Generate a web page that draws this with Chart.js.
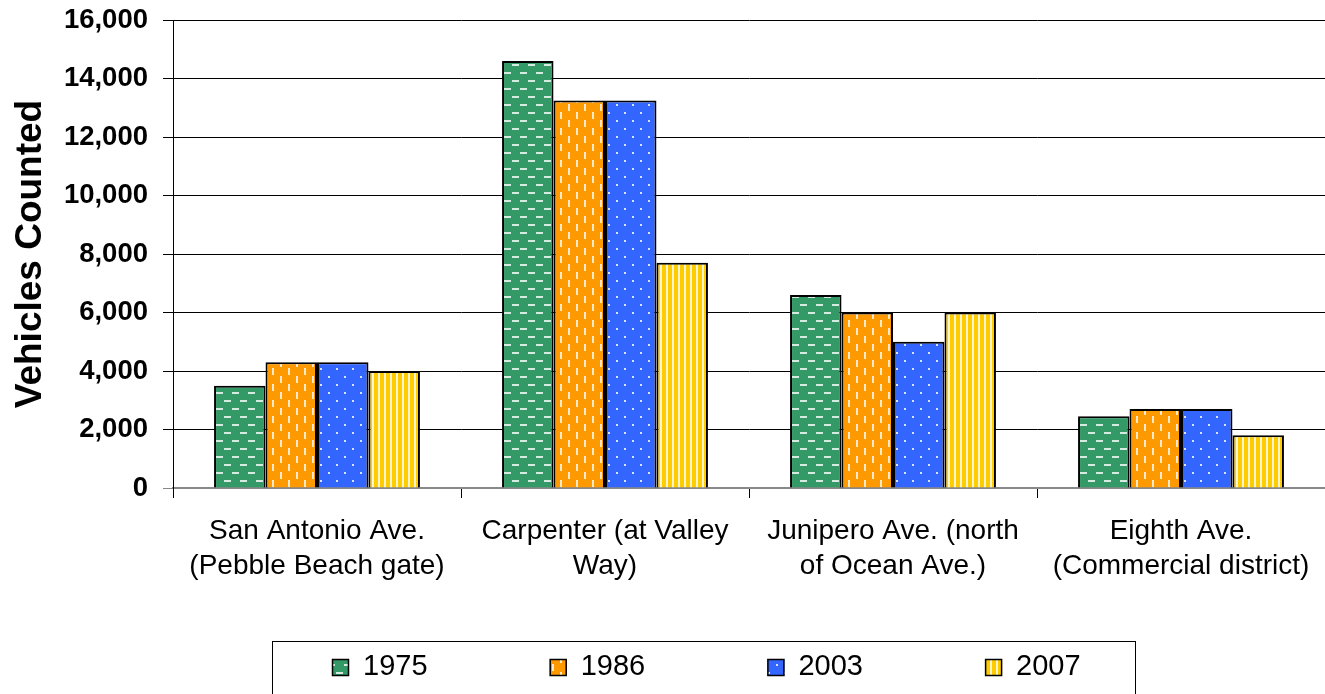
<!DOCTYPE html>
<html>
<head>
<meta charset="utf-8">
<script src="https://cdn.jsdelivr.net/npm/chart.js@4.4.1/dist/chart.umd.min.js"></script>
<style>
  html, body { margin: 0; padding: 0; background: #fff; }
</style>
</head>
<body>
<canvas id="trafficChart" width="1325" height="694"></canvas>
<script>
// Traffic counts by location and year
const categories = [
  ['San Antonio Ave.', '(Pebble Beach gate)'],
  ['Carpenter (at Valley', 'Way)'],
  ['Junipero Ave. (north', 'of Ocean Ave.)'],
  ['Eighth Ave.', '(Commercial district)']
];
const years = ['1975', '1986', '2003', '2007'];
const counts1975 = [3500, 14600, 6600, 2450];
const counts1986 = [4300, 13250, 6000, 2700];
const counts2003 = [4300, 13250, 5000, 2700];
const counts2007 = [4000, 7700, 6000, 1800];
const yMax = 16000;
const yStep = 2000;

const FONT = '"Liberation Sans", Arial, sans-serif';

const canvas = document.getElementById('trafficChart');
const ctx = canvas.getContext('2d');

// Build a fill pattern: base colour plus light marks
function makePattern(base, w, h, marks) {
  const c = document.createElement('canvas');
  c.width = w;
  c.height = h;
  const g = c.getContext('2d');
  g.fillStyle = base;
  g.fillRect(0, 0, w, h);
  g.fillStyle = 'rgba(255, 255, 255, 0.8)';
  marks(g);
  return ctx.createPattern(c, 'repeat');
}

const greenDash = makePattern('#339966', 16, 16, function(g) {
  g.fillRect(0, 0, 7, 2);
  g.fillRect(8, 8, 7, 2);
});
const orangeDash = makePattern('#ff9900', 16, 16, function(g) {
  g.fillRect(0, 0, 2, 7);
  g.fillRect(8, 8, 2, 7);
});
const blueDots = makePattern('#3366ff', 16, 16, function(g) {
  g.fillRect(0, 0, 2, 2);
  g.fillRect(8, 8, 2, 2);
});
const yellowStripes = makePattern('#ffcc00', 6, 6, function(g) {
  g.fillRect(0, 0, 2, 6);
});

// Legend inside a rectangle under the chart
const boxedLegend = {
  id: 'boxedLegend',
  afterDraw(chart) {
    const c = chart.ctx;
    c.save();
    c.strokeStyle = '#000';
    c.lineWidth = 1;
    c.strokeRect(272.5, 641.5, 863, 60);
    c.font = '29px ' + FONT;
    c.textBaseline = 'middle';
    chart.data.datasets.forEach(function(ds, i) {
      const x = 332 + i * 217.7;
      c.fillStyle = ds.backgroundColor;
      c.fillRect(x, 659, 17, 17);
      c.strokeStyle = '#000';
      c.lineWidth = 1.5;
      c.strokeRect(x + 0.5, 659.5, 16, 16);
      c.fillStyle = '#000';
      c.fillText(ds.label, x + 31, 667);
    });
    c.restore();
  }
};

const barCommon = {
  borderColor: '#000',
  borderWidth: 2,
  categoryPercentage: 0.715,
  barPercentage: 1.0
};

new Chart(ctx, {
  type: 'bar',
  data: {
    labels: categories,
    datasets: [
      Object.assign({ label: years[0], data: counts1975, backgroundColor: greenDash }, barCommon),
      Object.assign({ label: years[1], data: counts1986, backgroundColor: orangeDash }, barCommon),
      Object.assign({ label: years[2], data: counts2003, backgroundColor: blueDots }, barCommon),
      Object.assign({ label: years[3], data: counts2007, backgroundColor: yellowStripes }, barCommon)
    ]
  },
  options: {
    responsive: false,
    devicePixelRatio: 1,
    animation: false,
    layout: {
      padding: { top: 20, right: 0, bottom: 0, left: 0 }
    },
    plugins: {
      legend: { display: false },
      tooltip: { enabled: false }
    },
    scales: {
      x: {
        grid: {
          offset: true,
          drawOnChartArea: false,
          color: '#000',
          tickLength: 10
        },
        border: { color: '#888', width: 2 },
        ticks: {
          color: '#000',
          font: { family: FONT, size: 28, lineHeight: 1.25 },
          padding: 16,
          maxRotation: 0,
          autoSkip: false
        },
        afterFit: function(scale) {
          scale.height = 206;
          scale.paddingLeft = 0;
          scale.paddingRight = 0;
        }
      },
      y: {
        min: 0,
        max: yMax,
        ticks: {
          stepSize: yStep,
          color: '#000',
          font: { family: FONT, size: 27.5, weight: 'bold' },
          padding: 15
        },
        grid: {
          color: function(c) {
            return c.tick && c.tick.value === 0 ? '#888' : '#000';
          },
          lineWidth: 1,
          tickLength: 10
        },
        border: { color: '#000', width: 1 },
        title: {
          display: true,
          text: 'Vehicles Counted',
          color: '#000',
          font: { family: FONT, size: 37, weight: 'bold' },
          padding: { top: 9, bottom: 0 }
        },
        afterFit: function(scale) {
          scale.width = 173;
          scale.paddingTop = 0;
          scale.paddingBottom = 0;
        }
      }
    }
  },
  plugins: [boxedLegend]
});
</script>
</body>
</html>
